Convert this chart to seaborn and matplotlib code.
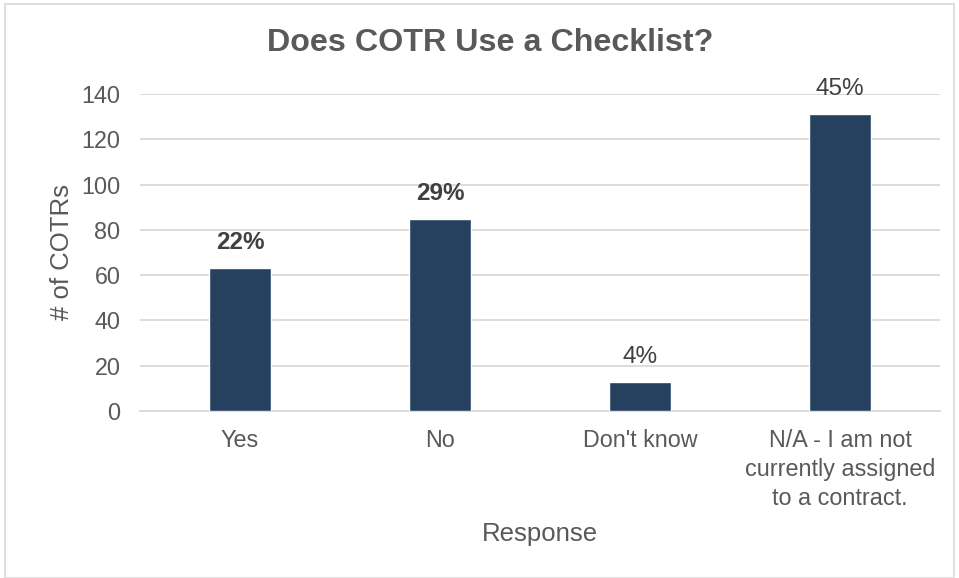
import matplotlib
matplotlib.use("Agg")
import matplotlib.pyplot as plt
import seaborn as sns
import pandas as pd
from matplotlib.patches import Rectangle

categories = ["Yes", "No", "Don't know", "N/A - I am not\ncurrently assigned\nto a contract."]
counts = [63, 85, 13, 131]
pct_labels = ["22%", "29%", "4%", "45%"]
pct_bold = [True, True, False, False]
yticks = [0, 20, 40, 60, 80, 100, 120, 140]

df = pd.DataFrame({"Response": categories, "Count": counts})

sns.set_theme(style="white")
plt.rcParams['font.family'] = ['Liberation Sans', 'DejaVu Sans']

fig = plt.figure(figsize=(9.59, 5.78), dpi=100)
ax = fig.add_axes([140/959, 1-411/578, 800/959, 317/578])

bar_color = "#26405F"
sns.barplot(data=df, x="Response", y="Count", color=bar_color, width=0.313,
            saturation=1, ax=ax, zorder=3)

ax.set_ylim(0, 140)
ax.set_xlim(-0.5, 3.5)
ax.set_yticks(yticks)
ax.yaxis.grid(True, color="#D9D9D9", linewidth=1.3, zorder=0)
ax.set_axisbelow(True)
for s in ["left", "right", "top"]:
    ax.spines[s].set_visible(False)
ax.spines["bottom"].set_color("#D9D9D9")
ax.spines["bottom"].set_linewidth(1.3)
ax.tick_params(axis="both", length=0, colors="#595959", labelsize=16.8)
ax.tick_params(axis="x", pad=13)
ax.tick_params(axis="y", pad=14)
for lbl in ax.get_xticklabels():
    lbl.set_linespacing(1.34)

ax.set_xlabel("Response", fontsize=18.5, color="#595959", labelpad=8.5)
ax.set_ylabel("# of COTRs", fontsize=18.5, color="#595959", labelpad=5)

for i, (v, t, b) in enumerate(zip(counts, pct_labels, pct_bold)):
    ax.annotate(t, xy=(i, v), xytext=(0, 10), textcoords="offset points",
                ha="center", va="bottom", fontsize=17.5,
                fontweight="bold" if b else "normal", color="#404040",
                annotation_clip=False)

fig.text(490/959, 1-43/578, "Does COTR Use a Checklist?", ha="center", va="center",
         fontsize=23.2, fontweight="bold", color="#595959")

fig.patches.append(Rectangle((5/959, 0), 949/959, 1-4/578, transform=fig.transFigure,
                             fill=False, edgecolor="#D9D9D9", linewidth=1.2))

fig.savefig("out.png", dpi=100)
